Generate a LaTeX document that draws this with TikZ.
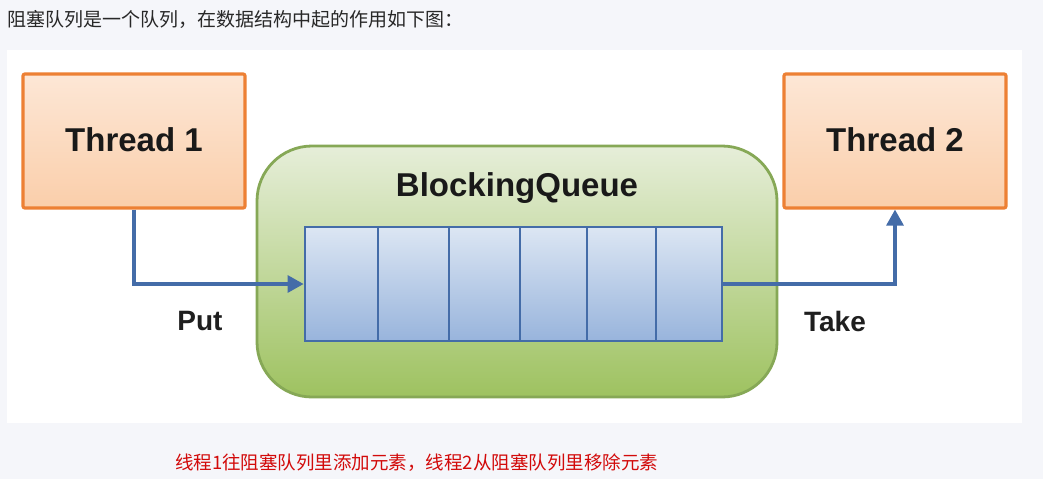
\documentclass[tikz,border=0pt]{standalone}
\usepackage{fontspec}
\setmainfont{Liberation Sans}
\newfontfamily\cjk{Noto Sans CJK SC}
\usetikzlibrary{arrows.meta,shadows}
\definecolor{pagebg}{RGB}{245,246,250}
\definecolor{orangeline}{RGB}{237,128,52}
\definecolor{orangetop}{RGB}{253,231,214}
\definecolor{orangebot}{RGB}{250,206,170}
\definecolor{greenline}{RGB}{134,168,86}
\definecolor{greentop}{RGB}{230,238,217}
\definecolor{greenbot}{RGB}{158,194,96}
\definecolor{blueline}{RGB}{68,108,168}
\definecolor{bluetop}{RGB}{220,230,243}
\definecolor{bluebot}{RGB}{152,180,220}
\definecolor{redtext}{RGB}{210,10,10}
\definecolor{titletext}{RGB}{40,40,40}
\tikzset{
  threadbox/.style={draw=orangeline, line width=3.2pt, top color=orangetop, bottom color=orangebot,
    minimum width=222pt, minimum height=134pt, rounded corners=2pt, inner sep=0pt,
    font=\fontsize{33}{36}\selectfont\bfseries, text=black!90, text depth=0pt},
  queuebox/.style={draw=greenline, line width=2.8pt, top color=greentop, bottom color=greenbot,
    minimum width=520pt, minimum height=251pt, rounded corners=55pt, inner sep=0pt},
  cellbox/.style={draw=blueline, line width=2.8pt, top color=bluetop, bottom color=bluebot,
    minimum height=114pt, inner sep=0pt},
  flow/.style={draw=blueline, line width=3.2pt, -{Triangle[length=16pt,width=17pt]}},
  lbl/.style={font=\fontsize{28}{30}\selectfont\bfseries, text=black!88},
  bqtitle/.style={font=\fontsize{33}{36}\selectfont\bfseries, text=black!90}
}
\begin{document}
\begin{tikzpicture}[x=1pt,y=-1pt]
\fill[pagebg] (0,0) rectangle (1043,479);
\useasboundingbox (0,0) rectangle (1043,479);
\fill[white] (7,50) rectangle (1022,423);
\node[anchor=west, inner sep=0pt, text=titletext, font=\cjk\fontsize{19}{21}\selectfont] (title) at (7,19) {阻塞队列是一个队列，在数据结构中起的作用如下图：};
\node[threadbox] (t1) at (134,141) {\raisebox{3pt}{Thread 1}};
\node[threadbox] (t2) at (895,141) {\raisebox{3pt}{Thread 2}};
\node[queuebox] (bq) at (517,271.5) {};
\node[bqtitle] (bqlabel) at (517,188) {BlockingQueue};
\node[cellbox, minimum width=73pt] (c1) at (341.5,284) {};
\node[cellbox, minimum width=71pt] (c2) at (413.5,284) {};
\node[cellbox, minimum width=71pt] (c3) at (484.5,284) {};
\node[cellbox, minimum width=67pt] (c4) at (553.5,284) {};
\node[cellbox, minimum width=69pt] (c5) at (621.5,284) {};
\node[cellbox, minimum width=66pt] (c6) at (689,284) {};
\draw[flow] (t1.south) |- (c1.west);
\draw[flow] (c6.east) -| (t2.south);
\node[lbl] (put) at (200,321) {Put};
\node[lbl] (take) at (835,321) {Take};
\node[anchor=west, inner sep=0pt, text=redtext, font=\cjk\fontsize{18.5}{20}\selectfont] (note) at (175,463) {线程1往阻塞队列里添加元素，线程2从阻塞队列里移除元素};
\end{tikzpicture}
\end{document}
